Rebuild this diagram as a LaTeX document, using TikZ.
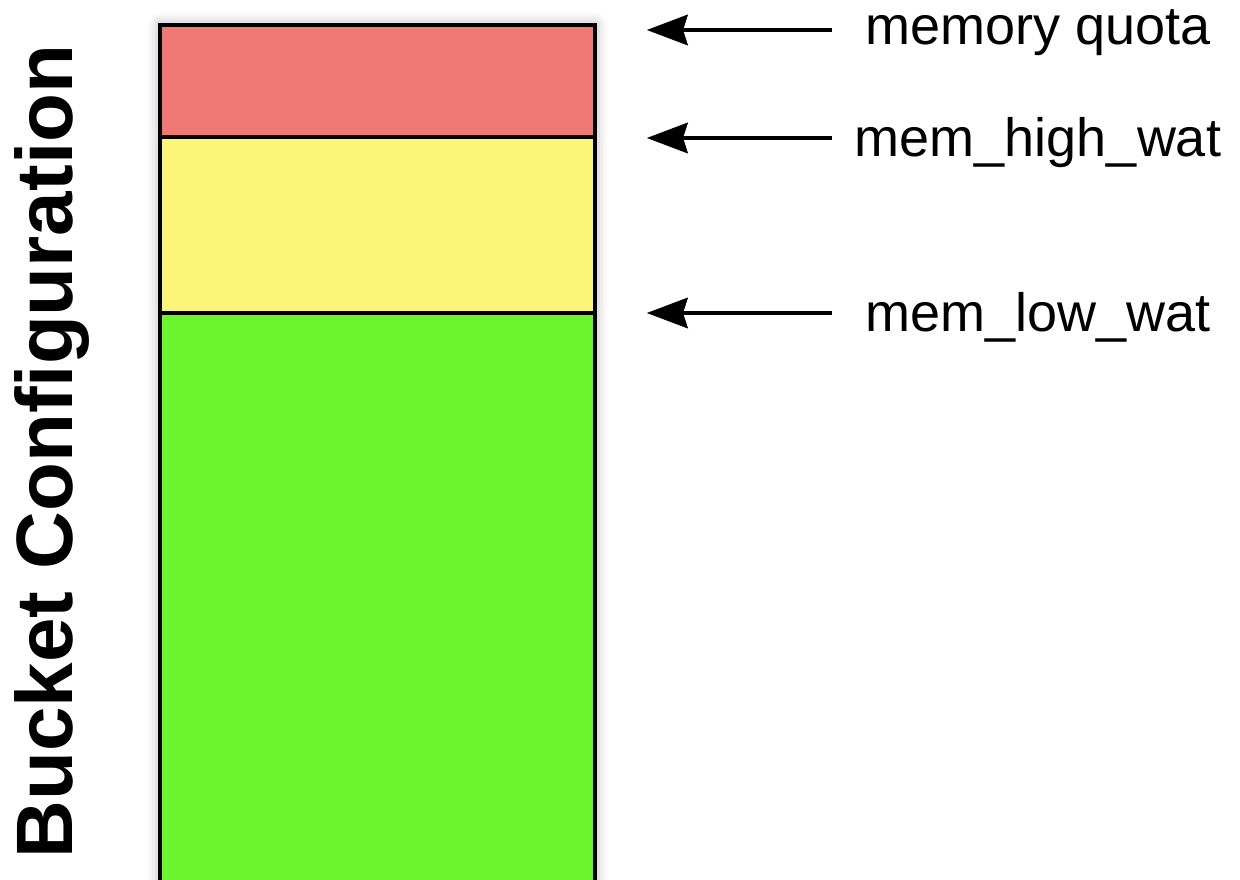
\documentclass[tikz,border=0pt]{standalone}
\usepackage{fontspec}
\setmainfont{Liberation Sans}
\usetikzlibrary{arrows.meta,shadows.blur}

\definecolor{quotared}{RGB}{240,122,115}
\definecolor{highyellow}{RGB}{253,245,120}
\definecolor{lowgreen}{RGB}{106,245,45}

\tikzset{
  band/.style={draw=black, line width=4pt},
  wmlabel/.style={anchor=base, inner sep=0pt, font=\fontsize{54}{60}\selectfont},
  wmarrow/.style={line width=4.5pt, -{Stealth[length=41pt,width=31pt,inset=5pt,line width=0.5pt,fill=black]}}
}

\begin{document}
\begin{tikzpicture}[x=1pt,y=1pt]
		\clip (0,0) rectangle (1240,879);
		% the bucket, bottom runs off the page
		\fill[white, blur shadow={shadow xshift=0pt, shadow yshift=0pt, shadow blur radius=12pt, shadow opacity=35}] (160,-20) rectangle (595,854);
		\filldraw[band, fill=lowgreen] (160,-20) rectangle (595,566);
		\filldraw[band, fill=highyellow] (160,566) rectangle (595,742);
		\filldraw[band, fill=quotared] (160,742) rectangle (595,854);

		\node[anchor=base, inner sep=0pt, rotate=90, font=\bfseries\fontsize{80}{90}\selectfont] (title) at (72,427.5) {Bucket Configuration};

		% watermarks
		\node[wmlabel] (quota) at (1038,834) {memory quota};
		\node[wmlabel] (high) at (1038,722) {mem\_high\_wat};
		\node[wmlabel] (low) at (1038,547) {mem\_low\_wat};

		\coordinate (quota tail) at (832,849);
		\coordinate (quota tip) at (647,849);
		\coordinate (high tail) at (832,741);
		\coordinate (high tip) at (647,741);
		\coordinate (low tail) at (832,566);
		\coordinate (low tip) at (647,566);

		\draw[wmarrow] (quota tail) -- (quota tip);
		\draw[wmarrow] (high tail) -- (high tip);
		\draw[wmarrow] (low tail) -- (low tip);
	\end{tikzpicture}
\end{document}
